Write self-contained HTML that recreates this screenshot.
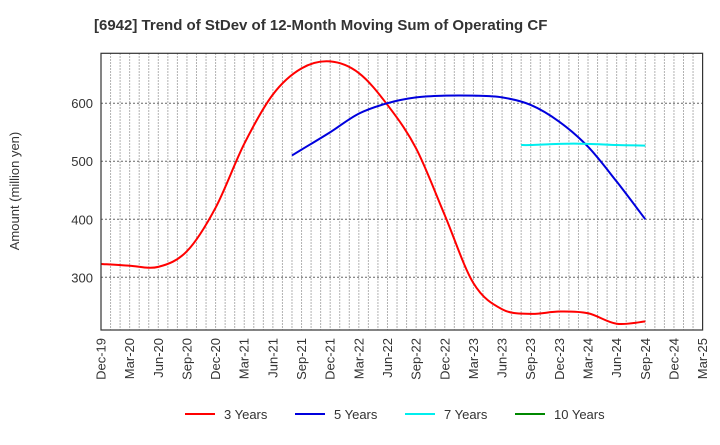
<!DOCTYPE html>
<html><head><meta charset="utf-8"><style>
body{margin:0;background:#fff;font-family:"Liberation Sans",sans-serif}
</style></head><body>
<svg id="c" width="720" height="440" xmlns="http://www.w3.org/2000/svg" font-family="Liberation Sans, sans-serif">
<text x="94" y="30" font-size="15" font-weight="bold" fill="#333">[6942]  Trend of StDev of 12-Month Moving Sum of Operating CF</text>
<text transform="translate(19,191) rotate(-90)" text-anchor="middle" font-size="13" fill="#333">Amount (million yen)</text>
<g id="grid"></g><g id="series"></g><g id="axes"></g><g id="legend"></g>
</svg>
<script>
const xLabels=["Dec-19","Mar-20","Jun-20","Sep-20","Dec-20","Mar-21","Jun-21","Sep-21","Dec-21","Mar-22","Jun-22","Sep-22","Dec-22","Mar-23","Jun-23","Sep-23","Dec-23","Mar-24","Jun-24","Sep-24","Dec-24","Mar-25"];
const yTicks=[300,400,500,600];
const s3=[323,320,318,345,420,530,615,660,672,652,597,522,407,290,245,237,241,238,220,224];
const s5=[510,520,550,582,600,610,613,613,610,597,568,525,465,400];
const s7=[528,528,530,530,528,527];
const s10=[];
const seriesNames=["3 Years","5 Years","7 Years","10 Years"];
const seriesColors=["#ff0000","#0000dd","#00eeee","#008800"];
const L=101,R=702.6,T=53.3,B=330,yMin=209.2,yMax=686;
const NS="http://www.w3.org/2000/svg";
const step=(R-L)/21;
const xs=i=>L+i*step;
const ys=v=>B-(v-yMin)/(yMax-yMin)*(B-T);
function mk(t,a,p){const e=document.createElementNS(NS,t);for(const k in a)e.setAttribute(k,a[k]);p.appendChild(e);return e;}
const grid=document.getElementById('grid');
for(let m=1;m<63;m++){const x=L+m*step/3;
const l=mk('line',{x1:x,x2:x,y1:T,y2:B,stroke:'#999','stroke-dasharray':'1.5,1.5','stroke-width':1},grid);

}
const axes=document.getElementById('axes');
yTicks.forEach(v=>{const y=ys(v);
const l=mk('line',{x1:L,x2:R,y1:y,y2:y,stroke:'#666','stroke-dasharray':'2,2'},grid);


const t=mk('text',{x:L-8,y:y+5,'text-anchor':'end','font-size':13,fill:'#333'},axes);t.textContent=v;

});
const fr=mk('rect',{x:L,y:T,width:R-L,height:B-T,fill:'none',stroke:'#333','stroke-width':1.2},axes);


xLabels.forEach((s,i)=>{const x=xs(i);
const t=mk('text',{transform:`translate(${x+4.5},${B+8}) rotate(-90)`,'text-anchor':'end','font-size':13,fill:'#333'},axes);t.textContent=s;

});
// x index for series: first point one month before the first quarter-end, then quarterly
function idx(n,off){return Array.from({length:n},(_,i)=>off===0?i:(i===0?off-1/3:off+i-1));}
function path(vals,off){const ix=idx(vals.length,off);const p=vals.map((v,i)=>[xs(ix[i]),ys(v)]);if(p.length<2)return '';
let d=`M${p[0][0]},${p[0][1]}`;
for(let i=0;i<p.length-1;i++){const p0=p[i-1]||p[i],p1=p[i],p2=p[i+1],p3=p[i+2]||p2;
d+=`C${p1[0]+(p2[0]-p0[0])/6},${p1[1]+(p2[1]-p0[1])/6} ${p2[0]-(p3[0]-p1[0])/6},${p2[1]-(p3[1]-p1[1])/6} ${p2[0]},${p2[1]}`;}
return d;}
const sg=document.getElementById('series');
[[s3,0],[s5,7],[s7,15],[s10,20]].forEach((s,k)=>{const d=path(s[0],s[1]);if(!d)return;
const e=mk('path',{d:d,fill:'none',stroke:seriesColors[k],'stroke-width':2},sg);

});
const lg=document.getElementById('legend');
seriesNames.forEach((n,k)=>{const x0=185+k*110;
const l=mk('line',{x1:x0,x2:x0+30,y1:414,y2:414,stroke:seriesColors[k],'stroke-width':2},lg);


const t=mk('text',{x:x0+39,y:419,'font-size':13,fill:'#333'},lg);t.textContent=n;

});
</script>
</body></html>
